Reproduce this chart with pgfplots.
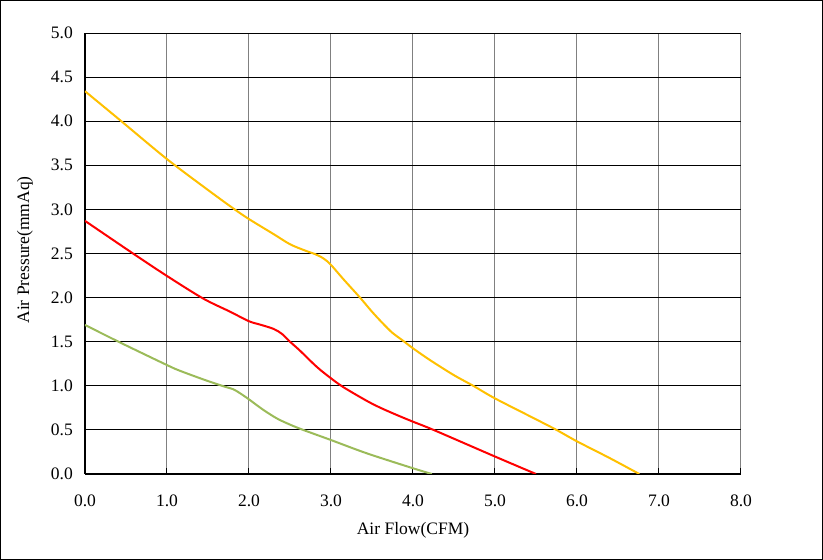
\documentclass[border=0pt]{standalone}
\usepackage{pgfplots}
\pgfplotsset{compat=1.18}
\usepackage{fontspec}
\setmainfont{Liberation Serif}
\definecolor{cyel}{HTML}{FFC000}
\definecolor{cred}{HTML}{FF0000}
\definecolor{cgrn}{HTML}{9BBB59}
\definecolor{cgrid}{HTML}{808080}
\begin{document}
\begin{tikzpicture}[font=\fontsize{17.5}{21}\selectfont]
\useasboundingbox (0,0) rectangle (823pt,560pt);
\draw[line width=1pt] (0.5pt,0.5pt) rectangle (822.5pt,559.5pt);
\begin{axis}[
  at={(85pt,86pt)}, anchor=south west,
  scale only axis, width=656pt, height=441pt,
  xmin=0, xmax=8, ymin=0, ymax=5,
  xtick={0,1,2,3,4,5,6,7,8},
  xticklabels={0.0,1.0,2.0,3.0,4.0,5.0,6.0,7.0,8.0},
  ytick={0,0.5,1,1.5,2,2.5,3,3.5,4,4.5,5},
  yticklabels={0.0,0.5,1.0,1.5,2.0,2.5,3.0,3.5,4.0,4.5,5.0},
  axis x line*=bottom, axis y line*=left,
  axis line style={-, black, line width=1.2pt},
  tick align=inside,
  major tick length=6pt,
  xtick style={black, line width=1pt},
  ytick style={draw=none},
  xmajorgrids, ymajorgrids,
  x grid style={cgrid, line width=1pt},
  y grid style={black, line width=1pt},
  tick label style={font=\fontsize{17.5}{21}\selectfont},
  xticklabel style={anchor=base, inner sep=0pt, yshift=-33pt},
  yticklabel style={anchor=east, inner sep=0pt, xshift=-12pt},
  label style={font=\fontsize{17.5}{21}\selectfont},
  xlabel={Air Flow(CFM)},
  xlabel style={at={(axis description cs:0.5,-0.138)}, anchor=base, inner sep=0pt},
  ylabel={Air Pressure(mmAq)},
  ylabel style={at={(axis description cs:-0.085,0.508)}, anchor=base, inner sep=0pt},
]
\addplot[cyel, line width=2pt, smooth, tension=0.5] coordinates {
(0,4.34) (0.43,4.01) (1.0,3.57) (1.5,3.22) (1.81,3.01) (2.0,2.89) (2.3,2.72)
(2.5,2.605) (2.68,2.535) (2.8,2.495) (2.88,2.46) (2.95,2.415) (3.02,2.35) (3.15,2.21) (3.354,2.0)
(3.5,1.84) (3.64,1.70) (3.75,1.60) (3.88,1.51) (4.0,1.425) (4.21,1.29) (4.5,1.12) (4.735,1.0)
(5.0,0.857) (5.5,0.62) (5.75,0.50) (6.0,0.37) (6.4,0.18) (6.76,0)};
\addplot[cred, line width=2pt, smooth, tension=0.5] coordinates {
(0,2.87) (0.57,2.51) (1.0,2.245) (1.44,1.99) (1.77,1.84) (2.0,1.732) (2.15,1.69)
(2.30,1.645) (2.4,1.59) (2.5,1.50) (2.62,1.40) (2.78,1.255) (2.87,1.18) (3.0,1.085)
(3.15,0.985) (3.435,0.83) (3.6,0.752) (3.8,0.67) (4.0,0.593) (4.25,0.50) (5.0,0.198) (5.5,0)};
\addplot[cgrn, line width=2pt, smooth, tension=0.5] coordinates {
(0,1.69) (0.43,1.49) (1.0,1.235) (1.159,1.17) (1.45,1.07) (1.687,0.995) (1.81,0.96)
(1.9,0.91) (2.0,0.846) (2.17,0.73) (2.34,0.63) (2.5,0.56) (2.66,0.50) (3.0,0.385)
(3.435,0.235) (4.0,0.065) (4.23,0)};
\end{axis}
\end{tikzpicture}
\end{document}
